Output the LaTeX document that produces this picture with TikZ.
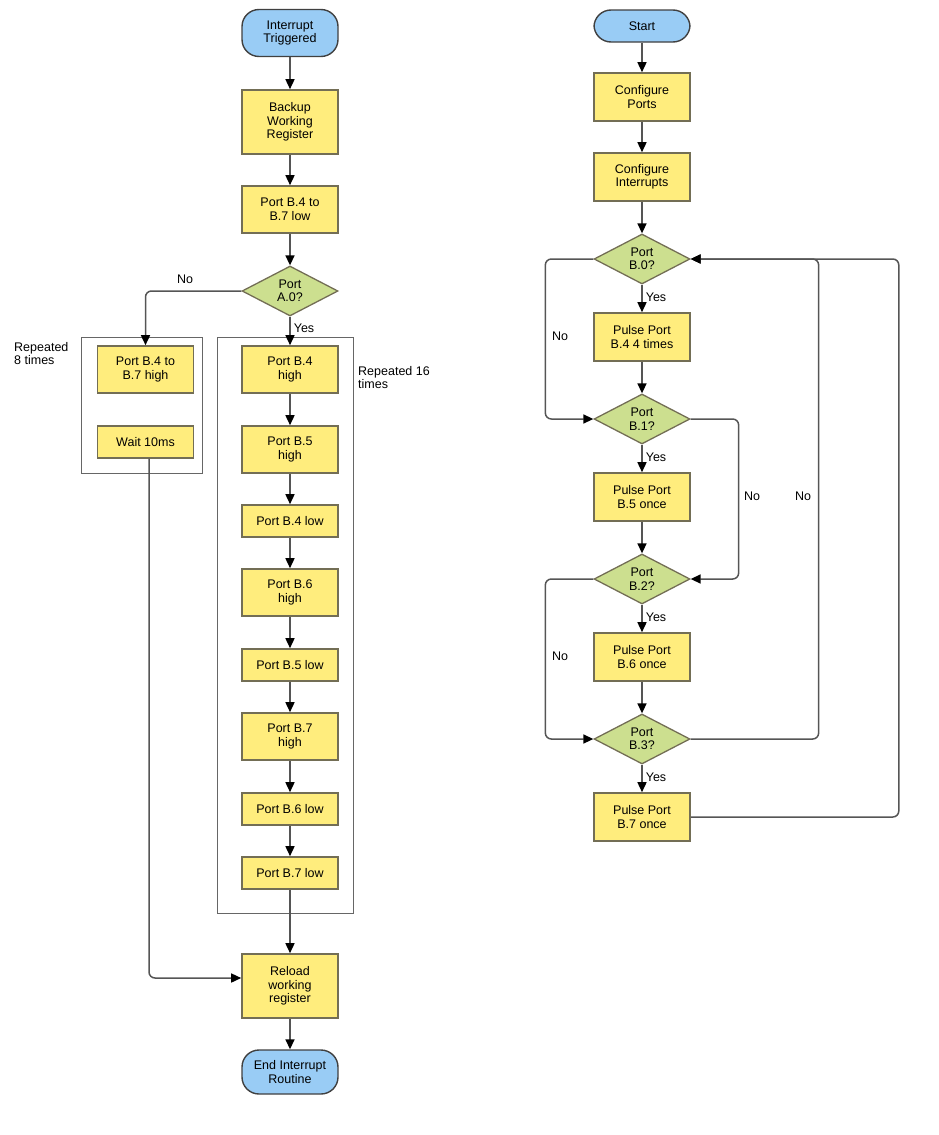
\documentclass[tikz,border=0pt]{standalone}
\usepackage{fontspec}
\setmainfont{Liberation Sans}
\usetikzlibrary{shapes.geometric,arrows.meta}
\definecolor{termblue}{RGB}{153,204,245}
\definecolor{boxyellow}{RGB}{255,237,125}
\definecolor{decgreen}{RGB}{204,223,143}
\definecolor{linegray}{RGB}{85,85,85}
\definecolor{edgegray}{RGB}{115,110,85}

\begin{document}
\begin{tikzpicture}[x=1pt, y=-1pt, font=\fontsize{12.5}{13.5}\selectfont,
    term/.style={draw=black!75, line width=1.4pt, fill=termblue, rounded corners=17pt, minimum width=96pt, align=center, inner sep=0},
    proc/.style={draw=edgegray, line width=1.6pt, fill=boxyellow, minimum width=96pt, align=center, inner sep=0},
    dec/.style={diamond, draw=edgegray, line width=1.3pt, fill=decgreen, minimum width=96pt, minimum height=50pt, inner sep=0, align=center},
    loopbox/.style={draw=black!60, line width=1.4pt, inner sep=0},
    flow/.style={draw=linegray, line width=1.5pt, -{Triangle[length=10pt,width=9pt,color=black]}, rounded corners=6pt},
    lbl/.style={inner sep=1pt, align=left}
]
\useasboundingbox (0,0) rectangle (939,1135);

% loop frames
\node[loopbox, minimum width=120.6pt, minimum height=135.6pt] (loop8) at (142,405.5) {};
\node[loopbox, minimum width=135.6pt, minimum height=575.6pt] (loop16) at (285.5,625.5) {};
\node[lbl, anchor=north west] (rep8) at (13,341) {Repeated\\8 times};
\node[lbl, anchor=north west] (rep16) at (357,365) {Repeated 16\\times};

% interrupt routine
\node[term, minimum height=47pt] (intr) at (290,33) {Interrupt\\Triggered};
\node[proc, minimum height=64pt] (backup) at (290,122) {Backup\\Working\\Register};
\node[proc, minimum height=47pt] (lowall) at (290,209.5) {Port B.4 to\\B.7 low};
\node[dec] (porta) at (290,291) {Port\\A.0?};

\node[proc, minimum height=47pt] (highall) at (145.5,369.5) {Port B.4 to\\B.7 high};
\node[proc, minimum height=32pt] (wait) at (145.5,441.7) {Wait 10ms};

\node[proc, minimum height=47pt] (b4high) at (290,369.5) {Port B.4\\high};
\node[proc, minimum height=47pt] (b5high) at (290,449.5) {Port B.5\\high};
\node[proc, minimum height=32pt] (b4low) at (290,521) {Port B.4 low};
\node[proc, minimum height=47pt] (b6high) at (290,592.5) {Port B.6\\high};
\node[proc, minimum height=32pt] (b5low) at (290,665) {Port B.5 low};
\node[proc, minimum height=47pt] (b7high) at (290,736.5) {Port B.7\\high};
\node[proc, minimum height=32pt] (b6low) at (290,809) {Port B.6 low};
\node[proc, minimum height=32pt] (b7low) at (290,873) {Port B.7 low};

\node[proc, minimum height=64pt] (reload) at (290,986) {Reload\\working\\register};
\node[term, minimum height=44pt] (endr) at (290,1072) {End Interrupt\\Routine};

\draw[flow] (intr) -- (backup);
\draw[flow] (backup) -- (lowall);
\draw[flow] (lowall) -- (porta);
\draw[flow] (porta.west) -| (highall.north);
\node[lbl] (noa) at (185,279) {No};
\draw[flow] (porta) -- (b4high);
\node[lbl] (yesa) at (304,328) {Yes};
\draw[flow] (b4high) -- (b5high);
\draw[flow] (b5high) -- (b4low);
\draw[flow] (b4low) -- (b6high);
\draw[flow] (b6high) -- (b5low);
\draw[flow] (b5low) -- (b7high);
\draw[flow] (b7high) -- (b6low);
\draw[flow] (b6low) -- (b7low);
\draw[flow] (b7low) -- (reload);
\draw[flow] ([xshift=3.5pt]wait.south) |- ([yshift=8pt]reload.west);
\draw[flow] (reload) -- (endr);

% main program
\node[term, minimum height=32pt] (start) at (642,26) {Start};
\node[proc, minimum height=48pt] (cports) at (642,97) {Configure\\Ports};
\node[proc, minimum height=48pt] (cints) at (642,177) {Configure\\Interrupts};
\node[dec] (bzero) at (642,259) {Port\\B.0?};
\node[proc, minimum height=48pt] (pulsefour) at (642,337) {Pulse Port\\B.4 4 times};
\node[dec] (bone) at (642,419) {Port\\B.1?};
\node[proc, minimum height=48pt] (pulsefive) at (642,497) {Pulse Port\\B.5 once};
\node[dec] (btwo) at (642,579) {Port\\B.2?};
\node[proc, minimum height=48pt] (pulsesix) at (642,657) {Pulse Port\\B.6 once};
\node[dec] (bthree) at (642,739) {Port\\B.3?};
\node[proc, minimum height=48pt] (pulseseven) at (642,817) {Pulse Port\\B.7 once};

\draw[flow] (start) -- (cports);
\draw[flow] (cports) -- (cints);
\draw[flow] (cints) -- (bzero);
\draw[flow] (bzero) -- (pulsefour);
\draw[flow] (pulsefour) -- (bone);
\draw[flow] (bone) -- (pulsefive);
\draw[flow] (pulsefive) -- (btwo);
\draw[flow] (btwo) -- (pulsesix);
\draw[flow] (pulsesix) -- (bthree);
\draw[flow] (bthree) -- (pulseseven);
\node[lbl] (yeszero) at (656,297) {Yes};
\node[lbl] (yesone) at (656,457) {Yes};
\node[lbl] (yestwo) at (656,617) {Yes};
\node[lbl] (yesthree) at (656,777) {Yes};

\draw[flow] (bzero.west) -- ++(-48,0) |- (bone.west);
\draw[flow] (bone.east) -- ++(48,0) |- (btwo.east);
\draw[flow] (btwo.west) -- ++(-48,0) |- (bthree.west);
\draw[flow] (bthree.east) -- ++(128,0) |- (bzero.east);
\draw[flow] (pulseseven.east) -- ++(208,0) |- (bzero.east);
\node[lbl] (nozero) at (560,336) {No};
\node[lbl] (noone) at (752,496) {No};
\node[lbl] (notwo) at (560,656) {No};
\node[lbl] (nothree) at (803,496) {No};

\end{tikzpicture}
\end{document}
